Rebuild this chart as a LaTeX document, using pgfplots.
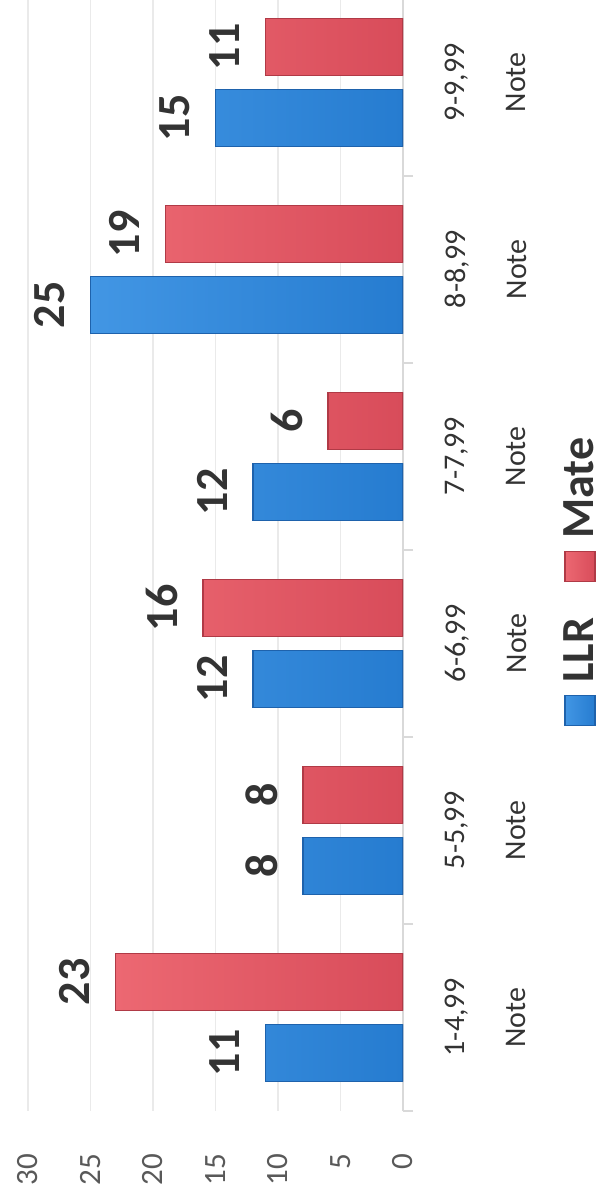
\documentclass[border=0pt]{standalone}
\usepackage{fontspec}
\setmainfont{Carlito}
\usepackage{pgfplots}
\pgfplotsset{compat=1.18}
\definecolor{blueT}{RGB}{66,150,228}
\definecolor{blueB}{RGB}{38,124,208}
\definecolor{blueE}{RGB}{30,98,172}
\definecolor{redT}{RGB}{236,104,114}
\definecolor{redB}{RGB}{216,76,90}
\definecolor{redE}{RGB}{176,58,70}
\definecolor{gridc}{RGB}{234,234,234}
\definecolor{axc}{RGB}{217,217,217}
\definecolor{tickc}{RGB}{89,89,89}
\definecolor{txt}{RGB}{51,51,51}
\begin{document}
\rotatebox{90}{%
\begin{tikzpicture}
\begin{axis}[
  name=ax,
  scale only axis, width=555.5pt, height=187.5pt,
  ybar=7pt, bar width=28.5pt,
  xmin=-0.5, xmax=5.44, ymin=0, ymax=30,
  /pgf/number format/assume math mode=true,
  axis lines*=left,
  y axis line style={draw=none},
  x axis line style={draw=axc, line width=0.8pt},
  xtick={0,1,2,3,4,5},
  xticklabels={{1-4,99\\[11pt]Note},{5-5,99\\[11pt]Note},{6-6,99\\[11pt]Note},{7-7,99\\[11pt]Note},{8-8,99\\[11pt]Note},{9-9,99\\[11pt]Note}},
  minor xtick={-0.5,0.5,1.5,2.5,3.5,4.5},
  major x tick style={draw=none},
  minor x tick style={draw=axc, line width=0.8pt},
  minor tick length=5pt,
  tick align=outside,
  xticklabel style={align=center, anchor=north, inner sep=0pt, yshift=-16.5pt,
    font=\fontsize{15}{19.5}\selectfont, text=txt},
  ytick={0,5,10,15,20,25,30},
  major y tick style={draw=none},
  yticklabel style={anchor=east, inner sep=0pt, xshift=-17pt,
    font=\fontsize{15.5}{18}\selectfont, text=tickc},
  ymajorgrids, major grid style={draw=gridc, line width=0.8pt},
  nodes near coords,
  every node near coord/.append style={anchor=south, inner sep=0pt, yshift=12.5pt,
    font=\bfseries\fontsize{23}{26}\selectfont, text=txt},
  every axis plot post/.append style={legend image code/.code={
    \draw[#1] (0pt,-7.5pt) rectangle (15pt,7.5pt);}},
  legend style={at={(0.478,-0.472)}, anchor=center, draw=none, fill=none,
    legend columns=-1, font=\bfseries\fontsize{23}{26}\selectfont, text=txt,
    /tikz/every odd column/.append style={column sep=4pt},
    /tikz/every even column/.append style={column sep=16pt}},
]
\addplot[top color=blueT, bottom color=blueB, draw=blueE, line width=0.6pt]
  coordinates {(0,11) (1,8) (2,12) (3,12) (4,25) (5,15)};
\addplot[top color=redT, bottom color=redB, draw=redE, line width=0.6pt]
  coordinates {(0,23) (1,8) (2,16) (3,6) (4,19) (5,11)};
\legend{LLR, Mate}
\end{axis}
\pgfresetboundingbox
\path ([xshift=-42pt,yshift=-101.5pt]ax.south west) rectangle ([yshift=14pt]ax.north east);
\end{tikzpicture}}
\end{document}
